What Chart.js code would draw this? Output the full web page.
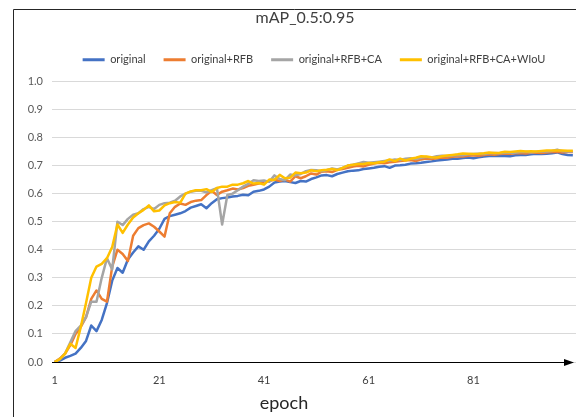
<!DOCTYPE html>
<html>
<head>
<meta charset="utf-8">
<script src="https://cdn.jsdelivr.net/npm/chart.js@4.4.1/dist/chart.umd.min.js"></script>
<style>
  html, body { margin: 0; padding: 0; background: #fff; }
  canvas { display: block; }
</style>
</head>
<body>
<canvas id="chart" width="576" height="417"></canvas>
<script>
// epochs 1..100
const epochs = Array.from({ length: 100 }, (_, i) => i + 1);
const xTicks = [1, 21, 41, 61, 81];
const seriesNames = ["original", "original+RFB", "original+RFB+CA", "original+RFB+CA+WIoU"];

const original = [
  0.000, 0.005, 0.015, 0.022, 0.030, 0.050, 0.075, 0.130, 0.110, 0.150,
  0.210, 0.290, 0.335, 0.318, 0.365, 0.390, 0.412, 0.400, 0.430, 0.450,
  0.475, 0.510, 0.520, 0.525, 0.530, 0.538, 0.550, 0.556, 0.562, 0.548,
  0.566, 0.580, 0.584, 0.586, 0.590, 0.592, 0.596, 0.594, 0.607, 0.610,
  0.615, 0.625, 0.640, 0.643, 0.645, 0.641, 0.638, 0.645, 0.643, 0.652,
  0.658, 0.665, 0.666, 0.662, 0.670, 0.675, 0.680, 0.682, 0.683, 0.688,
  0.690, 0.692, 0.696, 0.698, 0.692, 0.700, 0.701, 0.703, 0.707, 0.708,
  0.710, 0.713, 0.715, 0.718, 0.720, 0.722, 0.724, 0.724, 0.727, 0.729,
  0.726, 0.730, 0.732, 0.734, 0.734, 0.735, 0.734, 0.733, 0.737, 0.738,
  0.738, 0.740, 0.742, 0.741, 0.742, 0.744, 0.747, 0.741, 0.738, 0.737
];
const withRFB = [
  0.000, 0.012, 0.030, 0.060, 0.100, 0.125, 0.160, 0.225, 0.255, 0.225,
  0.215, 0.340, 0.400, 0.385, 0.360, 0.450, 0.477, 0.488, 0.494, 0.482,
  0.465, 0.447, 0.530, 0.553, 0.565, 0.560, 0.570, 0.575, 0.577, 0.595,
  0.610, 0.595, 0.607, 0.612, 0.618, 0.615, 0.620, 0.628, 0.632, 0.636,
  0.643, 0.645, 0.650, 0.645, 0.650, 0.643, 0.662, 0.655, 0.662, 0.672,
  0.668, 0.678, 0.680, 0.677, 0.685, 0.688, 0.692, 0.697, 0.699, 0.697,
  0.703, 0.707, 0.710, 0.708, 0.712, 0.714, 0.716, 0.718, 0.720, 0.716,
  0.722, 0.725, 0.723, 0.726, 0.729, 0.728, 0.731, 0.733, 0.732, 0.735,
  0.737, 0.735, 0.738, 0.740, 0.739, 0.741, 0.743, 0.742, 0.744, 0.745,
  0.743, 0.746, 0.747, 0.745, 0.747, 0.748, 0.749, 0.747, 0.748, 0.748
];
const withCA = [
  0.000, 0.010, 0.030, 0.070, 0.110, 0.130, 0.160, 0.215, 0.215, 0.300,
  0.370, 0.330, 0.500, 0.488, 0.510, 0.525, 0.530, 0.545, 0.553, 0.545,
  0.560, 0.566, 0.568, 0.575, 0.590, 0.600, 0.607, 0.610, 0.610, 0.605,
  0.612, 0.620, 0.490, 0.595, 0.600, 0.612, 0.625, 0.635, 0.648, 0.645,
  0.647, 0.642, 0.665, 0.652, 0.648, 0.668, 0.665, 0.670, 0.680, 0.684,
  0.683, 0.680, 0.684, 0.690, 0.686, 0.692, 0.700, 0.703, 0.708, 0.713,
  0.710, 0.712, 0.714, 0.716, 0.718, 0.722, 0.720, 0.724, 0.726, 0.723,
  0.728, 0.731, 0.729, 0.733, 0.735, 0.734, 0.736, 0.738, 0.737, 0.740,
  0.741, 0.742, 0.741, 0.744, 0.745, 0.744, 0.746, 0.747, 0.746, 0.748,
  0.749, 0.747, 0.749, 0.751, 0.750, 0.752, 0.757, 0.751, 0.750, 0.750
];
const withWIoU = [
  0.000, 0.010, 0.030, 0.065, 0.050, 0.125, 0.210, 0.300, 0.340, 0.350,
  0.370, 0.410, 0.490, 0.460, 0.490, 0.515, 0.530, 0.542, 0.558, 0.537,
  0.540, 0.558, 0.566, 0.570, 0.568, 0.600, 0.608, 0.612, 0.612, 0.616,
  0.606, 0.620, 0.625, 0.625, 0.632, 0.632, 0.637, 0.645, 0.636, 0.638,
  0.632, 0.650, 0.649, 0.667, 0.655, 0.657, 0.675, 0.673, 0.675, 0.683,
  0.680, 0.683, 0.685, 0.688, 0.684, 0.692, 0.700, 0.703, 0.706, 0.706,
  0.709, 0.708, 0.712, 0.714, 0.722, 0.716, 0.725, 0.718, 0.724, 0.728,
  0.733, 0.732, 0.730, 0.729, 0.733, 0.736, 0.738, 0.740, 0.743, 0.742,
  0.741, 0.742, 0.744, 0.747, 0.745, 0.746, 0.749, 0.748, 0.750, 0.752,
  0.750, 0.751, 0.750, 0.752, 0.754, 0.754, 0.754, 0.754, 0.753, 0.753
];

const colors = ["#4472C4", "#ED7D31", "#A5A5A5", "#FFC000"];
const FONT = "Lato, 'Open Sans', sans-serif";

// frame, black x axis with arrow, axis title
const decorations = {
  id: "decorations",
  afterLayout(chart) {
    // let the y tick labels use the space left of the axis box
    chart.scales.y.left = 14;
  },
  beforeDraw(chart) {
    const ctx = chart.ctx;
    ctx.save();
    ctx.fillStyle = "#fff";
    ctx.fillRect(0, 0, chart.width, chart.height);
    ctx.strokeStyle = "#262626";
    ctx.lineWidth = 1;
    ctx.beginPath();
    ctx.moveTo(13.5, chart.height);
    ctx.lineTo(13.5, 9.5);
    ctx.lineTo(chart.width, 9.5);
    ctx.stroke();
    ctx.restore();
  },
  afterDatasetsDraw(chart) {
    const ctx = chart.ctx;
    const area = chart.chartArea;
    const y0 = Math.round(chart.scales.y.getPixelForValue(0)) + 0.5;
    ctx.save();
    ctx.strokeStyle = "#000";
    ctx.fillStyle = "#000";
    ctx.lineWidth = 1.2;
    ctx.beginPath();
    ctx.moveTo(area.left, y0);
    ctx.lineTo(area.right - 10, y0);
    ctx.stroke();
    ctx.beginPath();
    ctx.moveTo(area.right - 12, y0 - 3.5);
    ctx.lineTo(area.right - 2, y0);
    ctx.lineTo(area.right - 12, y0 + 3.5);
    ctx.closePath();
    ctx.fill();
    ctx.font = "18px " + FONT;
    ctx.fillStyle = "#262626";
    ctx.textAlign = "center";
    ctx.textBaseline = "middle";
    ctx.fillText("epoch", 284, 403);
    ctx.restore();
  }
};

const datasets = [original, withRFB, withCA, withWIoU].map((values, i) => ({
  label: seriesNames[i],
  data: values,
  borderColor: colors[i],
  backgroundColor: colors[i],
  borderWidth: 2.5,
  pointRadius: 0,
  tension: 0,
  borderJoinStyle: "round",
  order: 4 - i
}));

new Chart(document.getElementById("chart"), {
  type: "line",
  data: { labels: epochs, datasets },
  plugins: [decorations],
  options: {
    responsive: false,
    animation: false,
    layout: { padding: { left: 34, right: 0, top: 0, bottom: 0 } },
    plugins: {
      title: {
        display: true,
        text: "mAP_0.5:0.95",
        color: "#404040",
        font: { family: FONT, size: 16, weight: "normal" },
        padding: { top: 8, bottom: 9 }
      },
      // empty spacer between legend and plot
      subtitle: {
        display: true,
        text: "",
        weight: 500,
        font: { size: 1 },
        padding: { top: 0, bottom: 5 }
      },
      legend: {
        position: "top",
        fullSize: false,
        labels: {
          color: "#404040",
          font: { family: FONT, size: 11 },
          boxWidth: 22,
          boxHeight: 3,
          padding: 18,
          sort: (a, b) => a.datasetIndex - b.datasetIndex,
          generateLabels: chart =>
            Chart.defaults.plugins.legend.labels.generateLabels(chart)
              .map(l => ({ ...l, lineWidth: 0 }))
        }
      },
      tooltip: { enabled: false }
    },
    scales: {
      x: {
        type: "linear",
        min: 0.5,
        max: 100.6,
        afterBuildTicks: scale => { scale.ticks = xTicks.map(v => ({ value: v })); },
        afterFit: scale => { scale.height = 55; },
        grid: { display: false, drawTicks: false },
        border: { display: false },
        ticks: {
          color: "#404040",
          font: { family: FONT, size: 11 },
          padding: 12,
          maxRotation: 0,
          autoSkip: false
        }
      },
      y: {
        min: 0,
        max: 1,
        afterFit: scale => { scale.width = 18; },
        grid: { color: "#d9d9d9", drawTicks: false },
        border: { display: false },
        ticks: {
          stepSize: 0.1,
          color: "#595959",
          padding: 9,
          font: { family: FONT, size: 11 },
          callback: v => v.toFixed(1)
        }
      }
    }
  }
});
</script>
</body>
</html>
